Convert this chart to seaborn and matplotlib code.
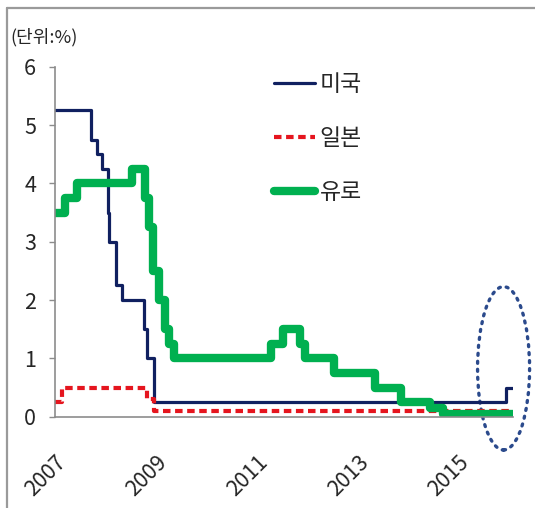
import pandas as pd
import matplotlib
matplotlib.use('Agg')
import matplotlib.pyplot as plt
import matplotlib.dates as mdates
from matplotlib.patches import Ellipse
from matplotlib.lines import Line2D
import seaborn as sns


# policy rate change dates and levels (%)
us_dates = ['2007-01-01', '2007-09-18', '2007-10-31', '2007-12-11', '2008-01-22', '2008-01-30',
            '2008-03-18', '2008-04-30', '2008-10-08', '2008-10-29', '2008-12-16', '2015-12-16', '2016-02-01']
us_rates = [5.25, 4.75, 4.5, 4.25, 3.5, 3.0, 2.25, 2.0, 1.5, 1.0, 0.25, 0.5, 0.5]

jp_dates = ['2007-01-01', '2007-02-21', '2008-10-31', '2008-12-19', '2016-02-01']
jp_rates = [0.25, 0.5, 0.3, 0.1, 0.1]

eu_dates = ['2007-01-01', '2007-03-14', '2007-06-13', '2008-07-09', '2008-10-15', '2008-11-12',
            '2008-12-10', '2009-01-21', '2009-03-11', '2009-04-08', '2009-05-13', '2011-04-13',
            '2011-07-13', '2011-11-09', '2011-12-14', '2012-07-11', '2013-05-08', '2013-11-13',
            '2014-06-11', '2014-09-10', '2016-02-01']
eu_rates = [3.5, 3.75, 4.0, 4.25, 3.75, 3.25, 2.5, 2.0, 1.5, 1.25, 1.0, 1.25,
            1.5, 1.25, 1.0, 0.75, 0.5, 0.25, 0.15, 0.05, 0.05]

labels = ['미국', '일본', '유로']
tick_years = [2007, 2009, 2011, 2013, 2015]

us = pd.DataFrame({'date': pd.to_datetime(us_dates), 'rate': us_rates})
jp = pd.DataFrame({'date': pd.to_datetime(jp_dates), 'rate': jp_rates})
eu = pd.DataFrame({'date': pd.to_datetime(eu_dates), 'rate': eu_rates})

sns.set_style('white')
plt.rcParams['font.family'] = ['Noto Sans CJK KR', 'DejaVu Sans']

fig = plt.figure(figsize=(5.35, 5.08), dpi=100)
ax = fig.add_axes([0.1028, 0.1797, 0.856, 0.689])

sns.lineplot(data=us, x='date', y='rate', ax=ax, color='#102060', lw=2.3,
             drawstyle='steps-post', estimator=None, label=labels[0])
sns.lineplot(data=jp, x='date', y='rate', ax=ax, color='#E5151E', lw=3.0,
             drawstyle='steps-post', estimator=None, label=labels[1], dashes=False)
ax.lines[1].set_dashes([1.8, 1.1])
sns.lineplot(data=eu, x='date', y='rate', ax=ax, color='#00B050', lw=6.0,
             drawstyle='steps-post', estimator=None, label=labels[2])

ax.set_ylim(0, 6)
ax.set_xlim(pd.Timestamp('2007-01-01'), pd.Timestamp('2016-02-01'))
ax.set_yticks(range(0, 7))
ax.set_xticks([pd.Timestamp(f'{y}-01-01') for y in tick_years])
ax.set_xticklabels([str(y) for y in tick_years], rotation=45, ha='right', va='top',
                   rotation_mode='anchor')
ax.set_xlabel('')
ax.set_ylabel('')

for side in ['top', 'right']:
    ax.spines[side].set_visible(False)
for side in ['left', 'bottom']:
    ax.spines[side].set_color('#8c8c8c')
    ax.spines[side].set_linewidth(1.2)
ax.tick_params(axis='y', length=4.5, width=1, color='#8c8c8c', direction='out',
               labelsize=15.5, pad=9, left=True)
ax.tick_params(axis='x', length=0, labelsize=15.5, pad=25)

leg = ax.legend(loc='upper left', bbox_to_anchor=(274 / 535, 1 - 73 / 508),
                bbox_transform=fig.transFigure, frameon=False, fontsize=16.5,
                handlelength=1.8, handletextpad=0.2, labelspacing=1.35,
                borderpad=0, borderaxespad=0)

# dotted ellipse around the latest hike
cx = mdates.date2num(pd.Timestamp('2015-11-25'))
ell = Ellipse((cx, 0.83), width=377, height=2.8, fill=False, edgecolor='#2B4A8C',
              lw=2.4, linestyle=(0, (0.6, 1.8)), clip_on=False)
ell.set_capstyle('round')
ax.add_patch(ell)

fig.text(10 / 535, 1 - 37 / 508, '(단위:%)', fontsize=13, va='center', ha='left')

# outer frame
fig.add_artist(Line2D([7 / 535, 1], [1 - 8 / 508, 1 - 8 / 508], transform=fig.transFigure,
                      color='#9a9a9a', lw=1.6))
fig.add_artist(Line2D([7 / 535, 7 / 535], [0, 1 - 8 / 508], transform=fig.transFigure,
                      color='#9a9a9a', lw=1.6))

plt.savefig('out.png', dpi=100)
